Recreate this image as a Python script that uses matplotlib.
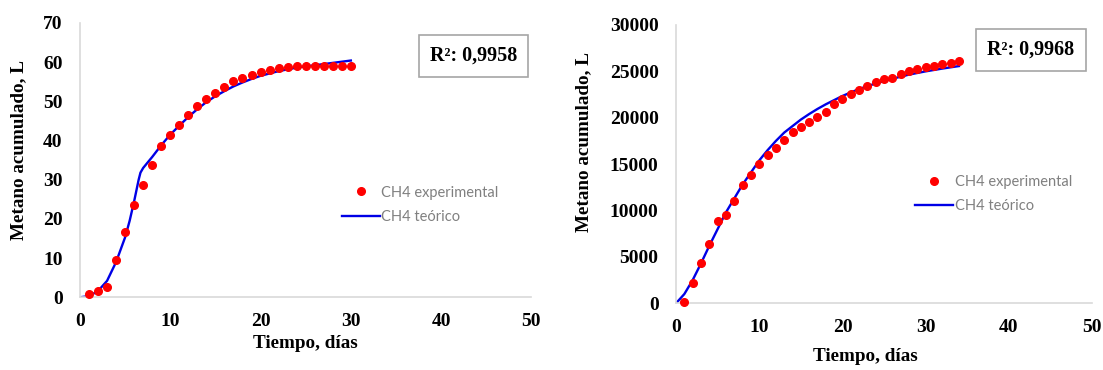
import matplotlib.pyplot as plt

plt.rcParams['font.family'] = ['Liberation Serif', 'DejaVu Serif']

# Left chart (digestor 1)
dias_exp_1 = list(range(1, 31))
ch4_exp_1 = [0.85, 1.5, 2.5, 9.6, 16.6, 23.6, 28.7, 33.7, 38.7, 41.4,
             43.9, 46.4, 48.9, 50.6, 52.2, 53.6, 55.1, 56.0, 56.7, 57.5,
             58.0, 58.4, 58.7, 59.0, 59.0, 59.0, 59.0, 59.0, 59.0, 59.0]
dias_teo_1 = [0, 1, 2, 3, 4, 5, 5.5, 6, 6.5, 6.7, 7, 8, 9, 10, 11, 12, 13, 14,
              15, 16, 17, 18, 19, 20, 22, 24, 26, 28, 30]
ch4_teo_1 = [0, 0.3, 1.6, 4.2, 9.0, 15.3, 19.5, 24.5, 30.0, 31.8, 33.0, 35.8,
             38.8, 41.5, 43.8, 46.0, 48.0, 49.8, 51.3, 52.6, 53.8, 54.8, 55.7,
             56.5, 57.7, 58.6, 59.2, 59.8, 60.4]
r2_1 = "0,9958"

# Right chart (digestor 2)
dias_exp_2 = list(range(1, 35))
ch4_exp_2 = [100, 2160, 4290, 6410, 8820, 9470, 11060, 12710, 13830, 14980,
             16030, 16710, 17650, 18470, 19020, 19560, 20060, 20640, 21460, 22000,
             22540, 22940, 23450, 23800, 24130, 24240, 24670, 24990, 25280, 25460,
             25610, 25820, 25930, 26070]
dias_teo_2 = [0, 1, 2, 3, 4, 5, 6, 7, 8, 9, 10, 11, 12, 13, 14, 15, 16, 17, 18,
              19, 20, 22, 24, 26, 28, 30, 32, 34]
ch4_teo_2 = [0, 1000, 2500, 4300, 6200, 8000, 9800, 11300, 12800, 14100, 15400,
             16500, 17500, 18400, 19100, 19800, 20400, 20950, 21450, 21900, 22350,
             23100, 23700, 24200, 24650, 25000, 25300, 25570]
r2_2 = "0,9968"

fig = plt.figure(figsize=(11.03, 3.70), dpi=100)
ax1 = fig.add_axes([0.0725, 0.1965, 0.4093, 0.7416])
ax2 = fig.add_axes([0.6129, 0.1803, 0.3772, 0.7522])

# ax, datos, r2, ymax, paso, pos. leyenda, pos. R2, pos. etiqueta x, pos. etiqueta y
charts = [
    (ax1, dias_exp_1, ch4_exp_1, dias_teo_1, ch4_teo_1, r2_1, 70, 10,
     (0.7535, 0.3375), (0.8722, 0.8794), (0.499, -0.137), (-0.117, 0.537)),
    (ax2, dias_exp_2, ch4_exp_2, dias_teo_2, ch4_teo_2, r2_2, 30000, 5000,
     (0.763, 0.392), (0.8529, 0.9112), (0.456, -0.16), (-0.202, 0.578)),
]

for ax, xe, ye, xt, yt, r2, ymax, ystep, leg_pos, r2_pos, xl_pos, yl_pos in charts:
    ax.plot(xt, yt, color="#0000e6", linewidth=1.7, label="CH4 teórico", zorder=2)
    ax.plot(xe, ye, "o", color="#ff0000", markersize=5.5, label="CH4 experimental",
            zorder=3, clip_on=False)
    ax.set_xlim(0, 50)
    ax.set_ylim(0, ymax)
    ax.set_xticks(range(0, 51, 10))
    ax.set_yticks(range(0, ymax + 1, ystep))
    for s in ["top", "right"]:
        ax.spines[s].set_visible(False)
    for s in ["left", "bottom"]:
        ax.spines[s].set_color("#d9d9d9")
        ax.spines[s].set_linewidth(1.2)
    ax.tick_params(axis="y", length=0, labelsize=14, pad=12.5)
    ax.tick_params(axis="x", length=0, labelsize=14, pad=11.5)
    for lbl in ax.get_xticklabels() + ax.get_yticklabels():
        lbl.set_fontweight("bold")
    ax.set_ylabel("Metano acumulado, L", fontsize=13.8, fontweight="bold")
    ax.set_xlabel("Tiempo, días", fontsize=13.8, fontweight="bold")
    ax.xaxis.set_label_coords(*xl_pos)
    ax.yaxis.set_label_coords(*yl_pos)

    handles, labels = ax.get_legend_handles_labels()
    leg = ax.legend(handles[::-1], labels[::-1], frameon=False, loc="center",
                    bbox_to_anchor=leg_pos, handlelength=2.6, handletextpad=0.1,
                    labelspacing=0.7, borderpad=0, borderaxespad=0, numpoints=1,
                    prop={"family": "Lato", "size": 10.5})
    for t in leg.get_texts():
        t.set_color("#808080")

    ax.text(r2_pos[0], r2_pos[1], "R²: " + r2, transform=ax.transAxes,
            ha="center", va="center", fontsize=14.5, fontweight="bold",
            bbox=dict(boxstyle="square,pad=0.55", facecolor="white",
                      edgecolor="#a6a6a6", linewidth=1.2))

fig.savefig("out.png", dpi=100)
